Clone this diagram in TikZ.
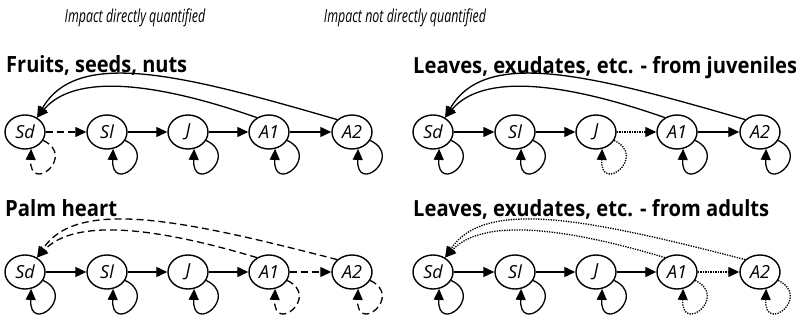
\documentclass[tikz,border=0pt]{standalone}
\usepackage{fontspec}
\setmainfont{Open Sans}
\usetikzlibrary{arrows.meta,shapes.geometric}
\tikzset{
  st/.style={draw, ellipse, line width=1.4pt, minimum width=40pt, minimum height=34pt, inner sep=0pt,
    font=\fontsize{18}{18}\selectfont\itshape},
  ar/.style={line width=1.3pt, -{Triangle[length=11pt,width=10pt]}},
  dsh/.style={dash pattern=on 7pt off 4pt},
  dot/.style={dash pattern=on 1.3pt off 1.2pt},
  ttl/.style={anchor=base west, inner sep=0pt},
  hdr/.style={anchor=base, inner sep=0pt},
}
\newcommand\selfloop[2]{\draw[ar,#2] (#1.-25) .. controls +(34,16) and +(-2,46) .. (#1.-70);}
\newcommand\panelnodes[3]{%
  \node[st] (#1sd) at (#2+25,#3) {Sd};
  \node[st] (#1sl) at (#2+107,#3) {Sl};
  \node[st] (#1j)  at (#2+188,#3) {J};
  \node[st] (#1a1) at (#2+269,#3) {A1};
  \node[st] (#1a2) at (#2+352,#3) {A2};
}
\begin{document}
\begin{tikzpicture}[x=1pt,y=-1pt]
\useasboundingbox (0,0) rectangle (796,324);
% headers
\node[hdr] (h1) at (135,22) {\scalebox{0.69}[1]{\fontsize{18}{18}\selectfont\itshape Impact directly quantified}};
\node[hdr] (h2) at (405,22) {\scalebox{0.69}[1]{\fontsize{18}{18}\selectfont\itshape Impact not directly quantified}};
% titles
\node[ttl] (t1) at (6,73) {\resizebox{181pt}{17pt}{\bfseries Fruits, seeds, nuts}};
\node[ttl] (t2) at (413,73) {\resizebox{384pt}{17pt}{\bfseries Leaves, exudates, etc. - from juveniles}};
\node[ttl] (t3) at (5,216) {\resizebox{112pt}{17pt}{\bfseries Palm heart}};
\node[ttl] (t4) at (413,216) {\resizebox{356pt}{17pt}{\bfseries Leaves, exudates, etc. - from adults}};

% panel A: top left
\panelnodes{a}{0}{132}
\draw[ar,dsh] (asd) -- (asl);
\draw[ar] (asl) -- (aj);
\draw[ar] (aj) -- (aa1);
\draw[ar] (aa1) -- (aa2);
\selfloop{asd}{dsh}
\selfloop{asl}{}
\selfloop{aj}{}
\selfloop{aa1}{}
\selfloop{aa2}{}
\draw[ar] (aa2.140) .. controls +(-155,-45) and +(40,-70) .. (asd.50);
\draw[ar] (aa1.130) .. controls +(-100,-35) and +(38,-45) .. (asd.50);

% panel B: top right
\panelnodes{b}{408}{132}
\draw[ar] (bsd) -- (bsl);
\draw[ar] (bsl) -- (bj);
\draw[ar,dot] (bj) -- (ba1);
\draw[ar] (ba1) -- (ba2);
\selfloop{bsd}{}
\selfloop{bsl}{}
\selfloop{bj}{dot}
\selfloop{ba1}{}
\selfloop{ba2}{}
\draw[ar] (ba2.140) .. controls +(-155,-45) and +(40,-70) .. (bsd.50);
\draw[ar] (ba1.130) .. controls +(-100,-35) and +(38,-45) .. (bsd.50);

% panel C: bottom left
\panelnodes{c}{0}{272}
\draw[ar] (csd) -- (csl);
\draw[ar] (csl) -- (cj);
\draw[ar] (cj) -- (ca1);
\draw[ar,dsh] (ca1) -- (ca2);
\selfloop{csd}{}
\selfloop{csl}{}
\selfloop{cj}{}
\selfloop{ca1}{dsh}
\selfloop{ca2}{dsh}
\draw[ar,dsh] (ca2.140) .. controls +(-155,-40) and +(40,-60) .. (csd.50);
\draw[ar,dsh] (ca1.130) .. controls +(-100,-30) and +(38,-40) .. (csd.50);

% panel D: bottom right
\panelnodes{d}{408}{272}
\draw[ar] (dsd) -- (dsl);
\draw[ar] (dsl) -- (dj);
\draw[ar] (dj) -- (da1);
\draw[ar,dot] (da1) -- (da2);
\selfloop{dsd}{}
\selfloop{dsl}{}
\selfloop{dj}{}
\selfloop{da1}{dot}
\selfloop{da2}{dot}
\draw[ar,dot] (da2.140) .. controls +(-155,-40) and +(40,-60) .. (dsd.50);
\draw[ar,dot] (da1.130) .. controls +(-100,-30) and +(38,-40) .. (dsd.50);
\end{tikzpicture}
\end{document}
